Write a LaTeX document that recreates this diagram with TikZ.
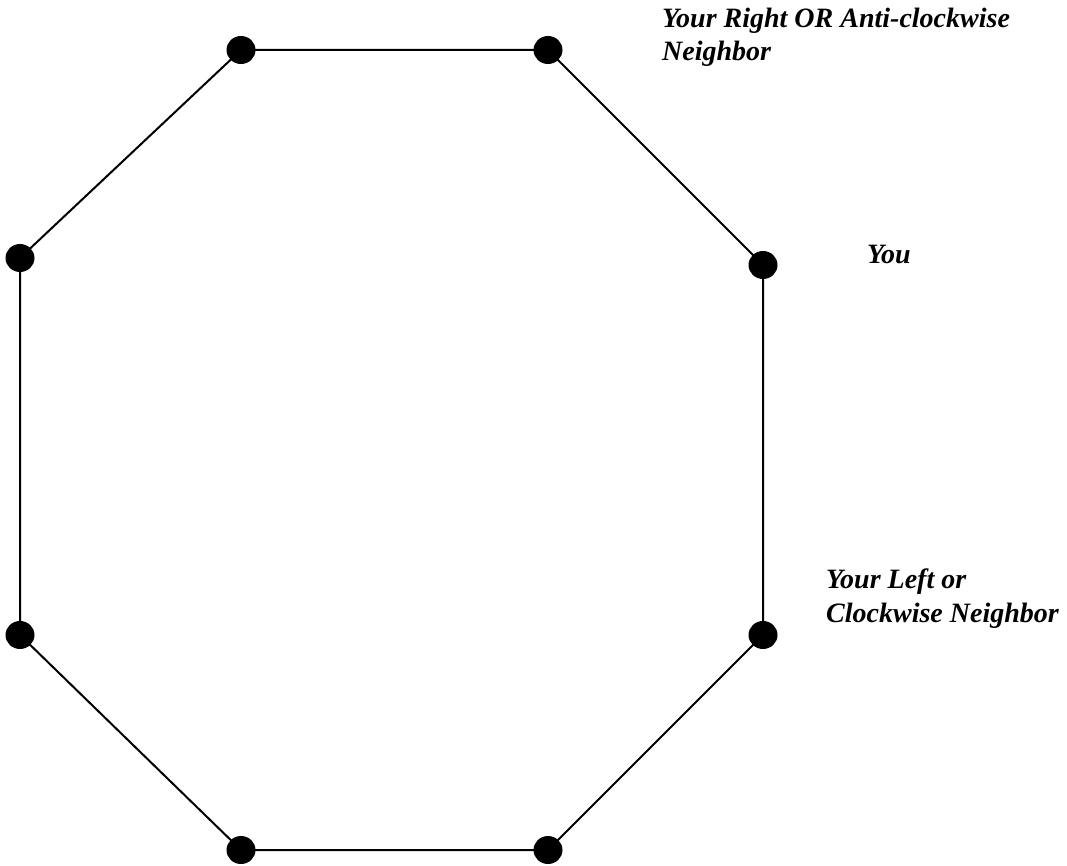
\documentclass[tikz,border=0pt]{standalone}
\usepackage{fontspec}
\setmainfont{Liberation Serif}
\usetikzlibrary{shapes.geometric}
\begin{document}
\begin{tikzpicture}[x=1pt,y=-1pt,
  dot/.style={ellipse,fill=black,minimum width=29pt,minimum height=28pt,inner sep=0pt},
  lbl/.style={font=\fontsize{28}{34}\selectfont\bfseries\itshape,align=left,inner sep=0pt,anchor=base west},
  edge/.style={line width=2pt}]
\useasboundingbox (0,0) rectangle (1067,866);
\coordinate (TL) at (241,50);
\coordinate (TR) at (548,50);
\coordinate (RU) at (763,265);
\coordinate (RL) at (763,635);
\coordinate (BR) at (548,850);
\coordinate (BL) at (241,850);
\coordinate (LL) at (20,635);
\coordinate (LU) at (20,258);
\draw[edge] (TL) -- (TR) -- (RU) -- (RL) -- (BR) -- (BL) -- (LL) -- (LU) -- cycle;
\foreach \p in {TL,TR,RU,RL,BR,BL,LL,LU} \node[dot] (d\p) at (\p) {};
\node[lbl] (l1) at (662,28) {Your Right OR Anti-clockwise};
\node[lbl] (l1b) at (662,61) {Neighbor};
\node[lbl] (l2) at (867,264) {You};
\node[lbl] (l3) at (826,588) {Your Left or};
\node[lbl] (l3b) at (826,622) {Clockwise Neighbor};
\end{tikzpicture}
\end{document}
